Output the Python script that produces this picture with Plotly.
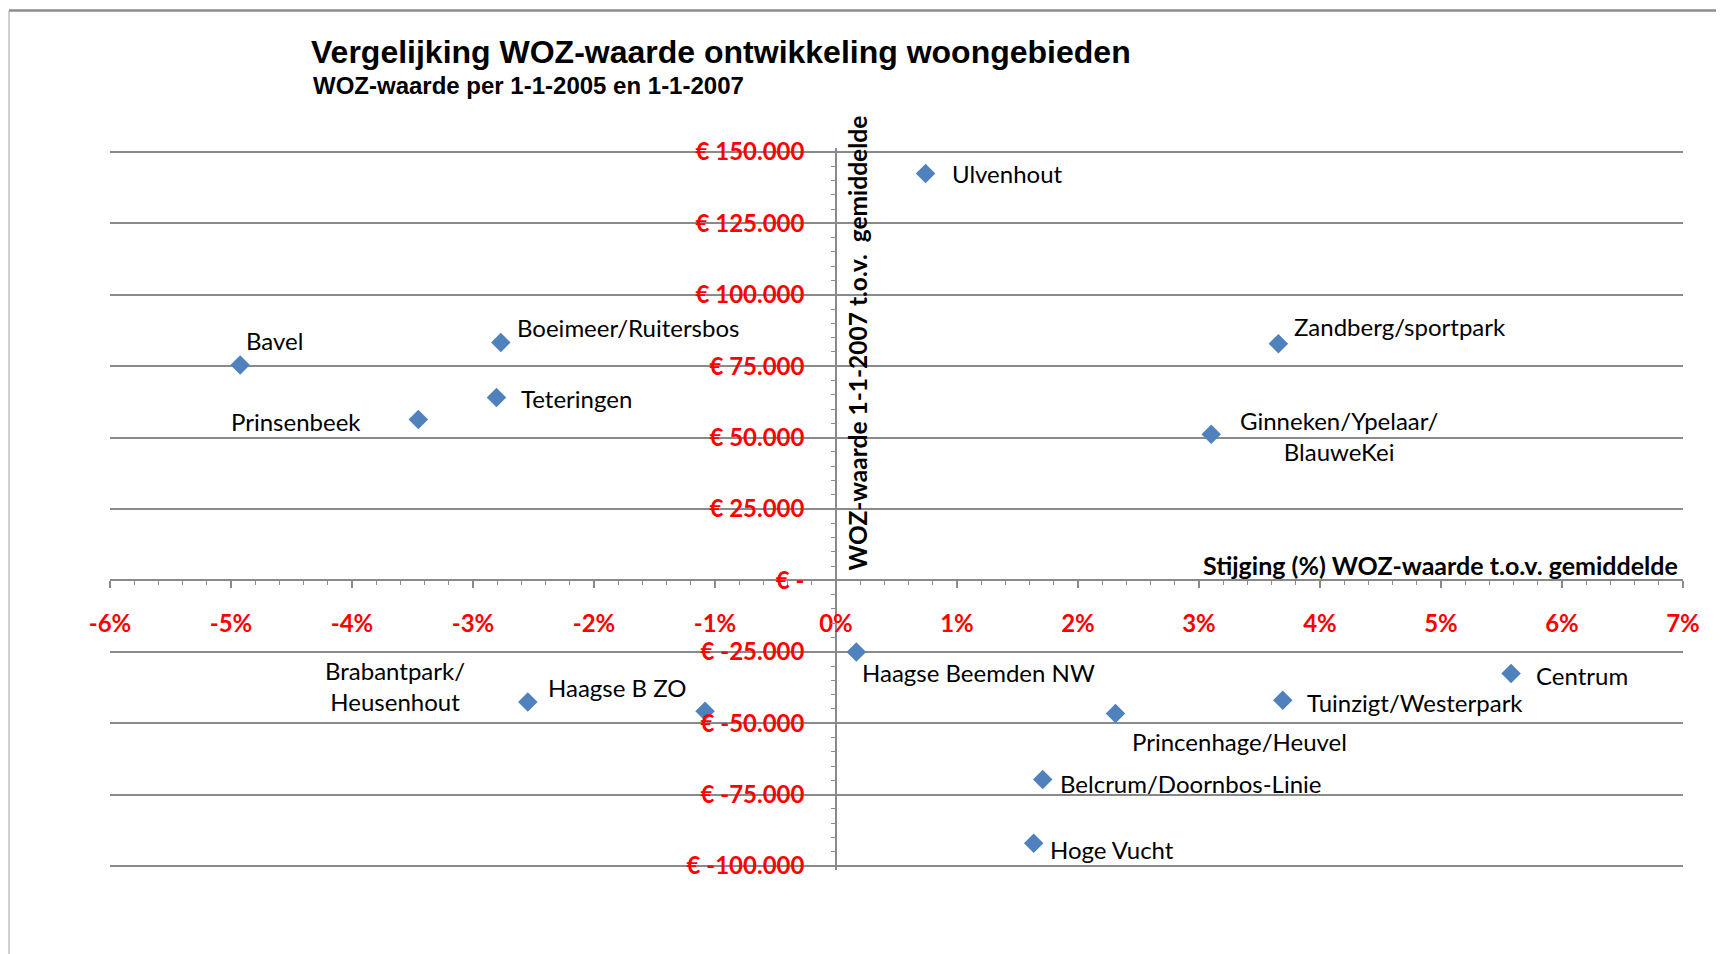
import plotly.graph_objects as go

# ---- data ----
areas = ["Ulvenhout", "Zandberg/sportpark", "Ginneken/Ypelaar/<br>BlauweKei", "Bavel",
         "Boeimeer/Ruitersbos", "Teteringen", "Prinsenbeek", "Brabantpark/<br>Heusenhout",
         "Haagse B ZO", "Haagse Beemden NW", "Centrum", "Tuinzigt/Westerpark",
         "Princenhage/Heuvel", "Belcrum/Doornbos-Linie", "Hoge Vucht"]
stijging_pct = [0.0074, 0.03656, 0.03101, -0.04924, -0.0277, -0.02806, -0.03452, -0.02547,
                -0.01082, 0.00168, 0.05579, 0.03692, 0.0231, 0.01708, 0.01634]
woz_verschil = [142500, 82900, 51200, 75400, 83300, 64000, 56300, -42600,
                -45800, -25100, -32600, -42000, -46600, -69700, -92000]

x_ticks = [-0.06, -0.05, -0.04, -0.03, -0.02, -0.01, 0, 0.01, 0.02, 0.03, 0.04, 0.05, 0.06, 0.07]
x_ticktext = [f"{round(v * 100)}%" for v in x_ticks]
y_ticks = [150000, 125000, 100000, 75000, 50000, 25000, 0, -25000, -50000, -75000, -100000]
y_ticktext = ["€ -" if v == 0 else ("€ " + f"{v:,}".replace(",", ".")) for v in y_ticks]

title = "Vergelijking WOZ-waarde ontwikkeling woongebieden"
subtitle = "WOZ-waarde per 1-1-2005 en 1-1-2007"
x_title = "Stijging (%) WOZ-waarde t.o.v. gemiddelde"
y_title = "WOZ-waarde 1-1-2007 t.o.v.\u00a0 gemiddelde"

# label placement: (anchor, xshift px, yshift px, align)
label_place = {
    "Ulvenhout": ("left", 24, 0, "left"),
    "Zandberg/sportpark": ("left", 14, 17, "left"),
    "Ginneken/Ypelaar/<br>BlauweKei": ("left", 27, -2, "center"),
    "Bavel": ("left", 4, 25, "left"),
    "Boeimeer/Ruitersbos": ("left", 14, 15, "left"),
    "Teteringen": ("left", 23, -1, "left"),
    "Prinsenbeek": ("right", -55, -2, "left"),
    "Brabantpark/<br>Heusenhout": ("right", -61, 16, "center"),
    "Haagse B ZO": ("right", -17, 24, "left"),
    "Haagse Beemden NW": ("left", 4, -20, "left"),
    "Centrum": ("left", 23, -2, "left"),
    "Tuinzigt/Westerpark": ("left", 22, -2, "left"),
    "Princenhage/Heuvel": ("left", 14, -28, "left"),
    "Belcrum/Doornbos-Linie": ("left", 15, -4, "left"),
    "Hoge Vucht": ("left", 14, -6, "left"),
}

OFF = 8  # page body margin
W, H = 1724, 954
XR = [-0.06, 0.07]
YR = [-100000, 150000]
YPAD = 1400  # small range pad so the edge gridlines get drawn
PW, PH0 = 1573, 714
PADPX = YPAD * PH0 / (YR[1] - YR[0])
ML = 110 - OFF
MT = round(152 - OFF - PADPX)
PH = round(PH0 + 2 * PADPX)
MR, MB = W - ML - PW, H - MT - PH
TOP_PX = MT + PADPX  # pixel y (in figure) of value 150000

GRID = "#8a8a8a"
LABEL_FONT = dict(family="Lato", size=24, color="black")
TICK_FONT = dict(family="Lato", size=24, color="#ff0000", weight="bold")

fig = go.Figure()
fig.add_trace(go.Scatter(
    x=stijging_pct, y=woz_verschil, mode="markers",
    marker=dict(symbol="diamond", size=15, color="#4f81bd", line=dict(width=0)),
    hoverinfo="skip", showlegend=False,
))

for name, xv, yv in zip(areas, stijging_pct, woz_verschil):
    anc, dx, dy, al = label_place[name]
    fig.add_annotation(x=xv, y=yv, xref="x", yref="y", text=name, showarrow=False,
                       xanchor=anc, yanchor="middle", xshift=dx, yshift=dy, align=al,
                       font=LABEL_FONT)

fig.add_annotation(x=XR[1], y=0, xref="x", yref="y", text=x_title, showarrow=False,
                   xanchor="right", yanchor="middle", xshift=-3, yshift=15,
                   font=dict(family="Lato", size=25, color="black", weight="bold"))
fig.add_annotation(x=0, y=0, xref="x", yref="y", text=y_title, showarrow=False,
                   textangle=-90, xanchor="left", yanchor="bottom", xshift=5, yshift=8,
                   font=dict(family="Lato", size=24.5, color="black", weight="bold"))

fig.add_annotation(x=(303 - ML) / PW, y=(MT + PH - 77) / PH, xref="paper", yref="paper",
                   text=subtitle, showarrow=False, xanchor="left", yanchor="middle",
                   font=dict(family="Liberation Sans", size=24, color="black", weight="bold"))

# chart frame (top and left edges visible)
fig.add_shape(type="line", xref="paper", yref="paper",
              x0=(1 - ML) / PW, x1=(W + 5 - ML) / PW,
              y0=(MT + PH - 2.5) / PH, y1=(MT + PH - 2.5) / PH,
              line=dict(color="#8c8c8c", width=2.5))
fig.add_shape(type="line", xref="paper", yref="paper",
              x0=(1 - ML) / PW, x1=(1 - ML) / PW,
              y0=(MT + PH - 2.5) / PH, y1=-0.3,
              line=dict(color="#a0a0a0", width=1))

fig.update_layout(
    width=W, height=H,
    margin=dict(l=ML, r=MR, t=MT, b=MB),
    paper_bgcolor="white", plot_bgcolor="white",
    title=dict(text=title, x=303 / W, xref="container", xanchor="left",
               y=1 - 44 / H, yref="container", yanchor="middle",
               font=dict(family="Liberation Sans", size=32, color="black", weight="bold")),
    xaxis=dict(range=XR, anchor="free",
               position=(0 - YR[0] + YPAD) / (YR[1] - YR[0] + 2 * YPAD),
               tickmode="array", tickvals=x_ticks, ticktext=x_ticktext,
               showgrid=False, zeroline=False,
               showline=True, linecolor=GRID, linewidth=1.5,
               ticks="outside", ticklen=7, tickwidth=1.5, tickcolor=GRID,
               ticklabelstandoff=15, tickfont=TICK_FONT,
               minor=dict(dtick=0.002, tick0=0, ticks="outside", ticklen=4,
                          tickwidth=1.2, tickcolor=GRID, showgrid=False)),
    yaxis=dict(range=[YR[0] - YPAD, YR[1] + YPAD], anchor="free",
               position=(0 - XR[0]) / (XR[1] - XR[0]),
               tickmode="array", tickvals=y_ticks, ticktext=y_ticktext,
               showgrid=True, gridcolor=GRID, gridwidth=2, zeroline=False,
               showline=True, linecolor=GRID, linewidth=1.5,
               ticks="outside", ticklen=7, tickwidth=1.5, tickcolor=GRID,
               ticklabelstandoff=19, tickfont=TICK_FONT,
               minor=dict(dtick=5000, tick0=0, ticks="outside", ticklen=4,
                          tickwidth=1.2, tickcolor=GRID, showgrid=False)),
)

fig.write_html("out.html")
